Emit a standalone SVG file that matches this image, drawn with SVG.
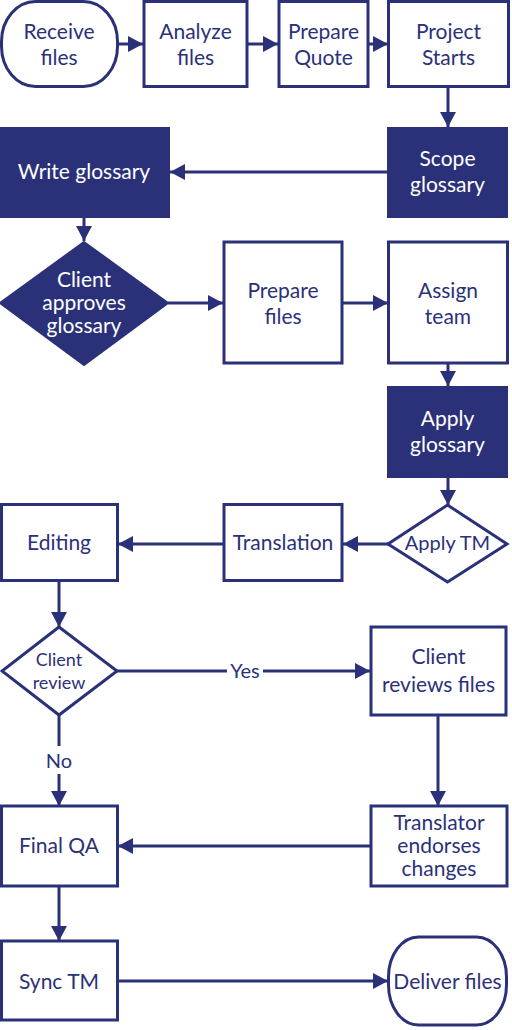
<svg xmlns="http://www.w3.org/2000/svg" width="512" height="1030" viewBox="0 0 512 1030">
<style>
.n{fill:#fff;stroke:#2b3179;stroke-width:3}
.f{fill:#2b3179;stroke:#2b3179;stroke-width:2}
.t{font-family:Lato,"Open Sans",sans-serif;font-size:21px;fill:#2b3179;text-anchor:middle}
.w{fill:#fff}
.c{fill:none;stroke:#2b3179;stroke-width:3}
.lb{fill:#fff;stroke:none}
</style>
<defs>
<marker id="a" markerUnits="userSpaceOnUse" markerWidth="16" markerHeight="18" refX="15" refY="9" orient="auto">
<path d="M0,1 L15,9 L0,17 Z" fill="#2b3179"/>
</marker>
</defs>
<g id="connectors">
<line class="c" x1="118" y1="44" x2="143" y2="44" marker-end="url(#a)"/>
<line class="c" x1="248" y1="44" x2="278" y2="44" marker-end="url(#a)"/>
<line class="c" x1="369" y1="44" x2="388" y2="44" marker-end="url(#a)"/>
<line class="c" x1="448" y1="88" x2="448" y2="127" marker-end="url(#a)"/>
<line class="c" x1="387" y1="172" x2="170" y2="172" marker-end="url(#a)"/>
<line class="c" x1="84" y1="217" x2="84" y2="241" marker-end="url(#a)"/>
<line class="c" x1="168" y1="303" x2="223" y2="303" marker-end="url(#a)"/>
<line class="c" x1="342" y1="303" x2="388" y2="303" marker-end="url(#a)"/>
<line class="c" x1="448" y1="363" x2="448" y2="386" marker-end="url(#a)"/>
<line class="c" x1="448" y1="477" x2="448" y2="505" marker-end="url(#a)"/>
<line class="c" x1="388" y1="544" x2="343" y2="544" marker-end="url(#a)"/>
<line class="c" x1="223" y1="544" x2="118" y2="544" marker-end="url(#a)"/>
<line class="c" x1="59" y1="580" x2="59" y2="627" marker-end="url(#a)"/>
<line class="c" x1="117" y1="671" x2="370" y2="671" marker-end="url(#a)"/>
<line class="c" x1="59" y1="715" x2="59" y2="806" marker-end="url(#a)"/>
<line class="c" x1="438" y1="715" x2="438" y2="806" marker-end="url(#a)"/>
<line class="c" x1="370" y1="846" x2="118" y2="846" marker-end="url(#a)"/>
<line class="c" x1="59" y1="886" x2="59" y2="941" marker-end="url(#a)"/>
<line class="c" x1="117" y1="981" x2="388" y2="981" marker-end="url(#a)"/>
<rect class="lb" x="227" y="660" width="36" height="22"/>
<text class="t" x="245" y="678" style="font-size:20px">Yes</text>
<rect class="lb" x="44" y="746" width="30" height="28"/>
<text class="t" x="59" y="768" style="font-size:20px">No</text>
</g>
<g id="receive"><rect class="n" x="1.5" y="1.5" width="116" height="85" rx="34" ry="40"/><text class="t" x="59" y="39">Receive</text><text class="t" x="59" y="65">files</text></g>
<g id="analyze"><rect class="n" x="144" y="1.5" width="103" height="85"/><text class="t" x="195.5" y="39">Analyze</text><text class="t" x="195.5" y="65">files</text></g>
<g id="quote"><rect class="n" x="279" y="1.5" width="89" height="85"/><text class="t" x="323.5" y="39">Prepare</text><text class="t" x="323.5" y="65">Quote</text></g>
<g id="start"><rect class="n" x="388.5" y="1.5" width="120" height="85"/><text class="t" x="448.5" y="39">Project</text><text class="t" x="448.5" y="65">Starts</text></g>
<g id="scope"><rect class="f" x="388" y="128" width="119" height="89"/><text class="t w" x="447.5" y="166">Scope</text><text class="t w" x="447.5" y="192">glossary</text></g>
<g id="write"><rect class="f" x="0" y="128" width="169" height="89"/><text class="t w" x="84" y="179">Write glossary</text></g>
<g id="approve"><polygon class="f" points="84,242 168,303 84,365 0,303"/><text class="t w" x="84" y="287">Client</text><text class="t w" x="84" y="310">approves</text><text class="t w" x="84" y="333">glossary</text></g>
<g id="prepfiles"><rect class="n" x="224" y="242" width="118" height="121"/><text class="t" x="283" y="298">Prepare</text><text class="t" x="283" y="324">files</text></g>
<g id="assign"><rect class="n" x="388.5" y="242" width="119" height="121"/><text class="t" x="448" y="298">Assign</text><text class="t" x="448" y="324">team</text></g>
<g id="applyg"><rect class="f" x="388" y="387" width="119" height="90"/><text class="t w" x="447.5" y="426">Apply</text><text class="t w" x="447.5" y="452">glossary</text></g>
<g id="applytm"><polygon class="n" points="447.5,505 507,544 447.5,582 388,544"/><text class="t" x="447.5" y="550" style="font-size:20px">Apply TM</text></g>
<g id="translation"><rect class="n" x="224" y="504.5" width="118" height="76"/><text class="t" x="283" y="550">Translation</text></g>
<g id="editing"><rect class="n" x="1.5" y="504.5" width="116" height="76"/><text class="t" x="59" y="550">Editing</text></g>
<g id="review"><polygon class="n" points="59,627 117,671 59,715 2,671"/><text class="t" x="59" y="666" style="font-size:18px">Client</text><text class="t" x="59" y="689" style="font-size:18px">review</text></g>
<g id="clientrev"><rect class="n" x="371" y="627" width="135" height="88"/><text class="t" x="438.5" y="664">Client</text><text class="t" x="438.5" y="692">reviews files</text></g>
<g id="endorse"><rect class="n" x="371" y="806" width="136" height="80"/><text class="t" x="439" y="830">Translator</text><text class="t" x="439" y="853">endorses</text><text class="t" x="439" y="876">changes</text></g>
<g id="finalqa"><rect class="n" x="1.5" y="806" width="116" height="80"/><text class="t" x="59" y="853">Final QA</text></g>
<g id="sync"><rect class="n" x="1.5" y="941" width="116" height="79"/><text class="t" x="59" y="989">Sync TM</text></g>
<g id="deliver"><rect class="n" x="388.5" y="937" width="118" height="88" rx="30" ry="40"/><text class="t" x="447.5" y="989">Deliver files</text></g>
</svg>
